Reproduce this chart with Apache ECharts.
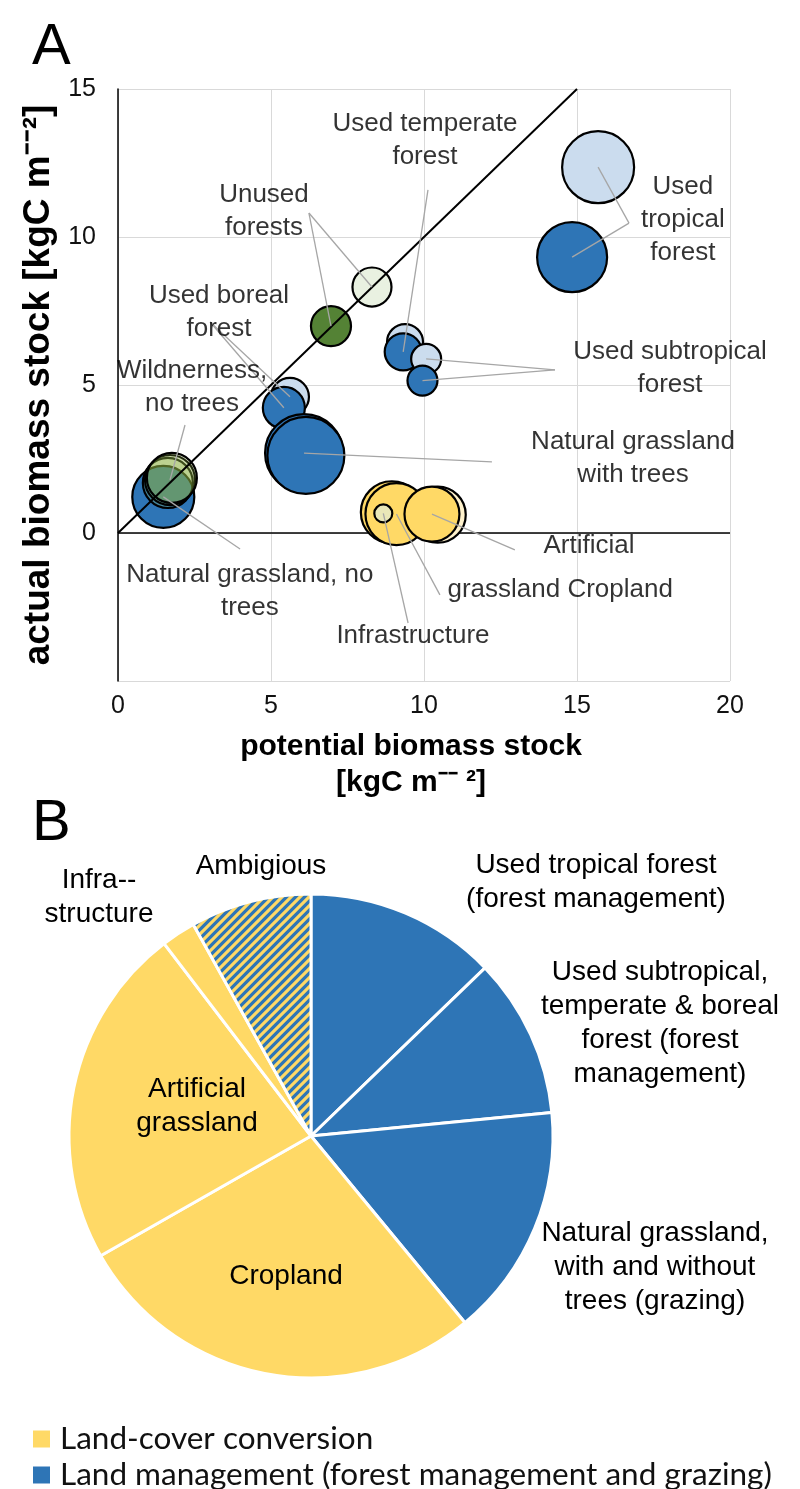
<!DOCTYPE html>
<html><head><meta charset="utf-8">
<script src="https://cdn.jsdelivr.net/npm/echarts@6/dist/echarts.min.js"></script>
<style>html,body{margin:0;padding:0;background:#fff}#c{width:800px;height:1489px}</style>
</head><body><div id="c"></div>
<script>
// ---------- Panel A: bubbles ----------
const bubbleKeys = ['cropB','artB','crop','art','infra','tropL','tropD','unusedL','unusedD','tempL','tempD','subL','subD','borL','borD','ngtA','ngtB','ngn','wildA','wildB','wildC'];
const potentialStock = [8.95,10.45,9.10,10.26,8.67,15.69,14.84,8.30,6.96,9.38,9.32,10.07,9.95,5.62,5.42,6.08,6.14,1.48,1.63,1.70,1.76];
const actualStock    = [0.70,0.62,0.64,0.64,0.66,12.36,9.32,8.31,6.99,6.45,6.12,5.88,5.15,4.60,4.23,2.70,2.62,1.22,1.69,1.79,1.86];
const bubbleArea     = [47.5,38.7,47.5,37.3,4.0,64,60.5,18.8,19.8,16,16.9,11.1,11.1,17.8,21.8,75.1,73.2,47.5,30.9,30.9,30.9];
const bubbleClass    = ['crop','artLight','crop','crop','infra','forestLight','forestDark','unusedLight','unusedDark','forestLight','forestDark','forestLight','forestDark','forestLight','forestDark','forestDark','forestDark','forestDark','wild','wild','wild'];

// annotations
const annotTexts = ['Used temperate\nforest','Used\ntropical\nforest','Unused\nforests','Used boreal\nforest','Wildnerness,\nno trees','Natural grassland\nwith trees','Used subtropical\nforest','Natural grassland, no\ntrees','Artificial','grassland Cropland','Infrastructure'];
const annotX = [10.03,18.46,4.77,3.30,2.42,16.83,18.04,4.31,15.39,14.45,9.64];
const annotY = [13.28,10.57,10.88,7.47,4.93,2.52,5.57,-1.98,-0.44,-1.93,-3.48];

// leader lines: from anchor to bubble
const leaderFromX = [10.13,16.70,16.70,6.24,6.24,3.01,3.01,2.19,12.22,14.28,14.28,3.99,12.97,10.52,9.48];
const leaderFromY = [11.59,10.47,10.47,10.81,10.81,7.13,7.13,3.65,2.40,5.51,5.51,-0.54,-0.57,-2.09,-3.04];
const leaderTo    = ['tempD','tropL','tropD','unusedL','unusedD','borL','borD','wildB','ngtA','subL','subD','ngn','art','crop','infra'];

const oneToOne = [0, 15];
const zeroLine = [0, 20];
const xTicks = [0, 20, 5];
const yTicks = [-5, 15, 5];

// ---------- Panel B: pie ----------
const pieNames  = ['Used tropical forest (forest management)','Used subtropical, temperate & boreal forest (forest management)','Natural grassland, with and without trees (grazing)','Cropland','Artificial grassland','Infrastructure','Ambiguous'];
const pieLabels = ['Used tropical forest\n(forest management)','Used subtropical,\ntemperate & boreal\nforest (forest\nmanagement)','Natural grassland,\nwith and without\ntrees (grazing)','Cropland','Artificial\ngrassland','Infra--\nstructure','Ambigious'];
const pieShares = [12.8,10.7,15.6,27.8,22.9,2.3,8.1];
const pieType   = ['management','management','management','conversion','conversion','conversion','ambiguous'];
const legendNames = ['Land-cover conversion','Land management (forest management and grazing)'];

// ---------- styles ----------
const F = '"Liberation Sans", Arial, sans-serif';
const BLUE = '#2e75b6', YELLOW = '#ffd966';
const classColor = {crop:YELLOW, artLight:'#fff2cc', infra:'#e9e7b8', forestLight:'#cbdcee', forestDark:BLUE, unusedLight:'#e9f1e1', unusedDark:'#548235', wild:'rgba(139,175,63,0.25)'};
const pieLabelPos = [[596,882],[660,1023],[655,1267],[286,1276],[197,1106],[99,897],[261,866]];

function hatch(){
  const s=9, c=document.createElement('canvas'); c.width=s; c.height=s;
  const g=c.getContext('2d'); g.fillStyle=BLUE; g.fillRect(0,0,s,s);
  g.strokeStyle=YELLOW; g.lineWidth=3.1; g.beginPath();
  g.moveTo(-1,s+1); g.lineTo(s+1,-1);
  g.moveTo(-s/2-1,s/2+1); g.lineTo(s/2+1,-s/2-1);
  g.moveTo(s/2-1,s*1.5+1); g.lineTo(s*1.5+1,s/2-1);
  g.stroke(); return c;
}
const typeColor = {management:BLUE, conversion:YELLOW, ambiguous:{image:hatch(), repeat:'repeat'}};

const idx = k => bubbleKeys.indexOf(k);
const legendText = {fontFamily:'Lato, "Open Sans", sans-serif', fontSize:31.5, lineHeight:32, color:'#111', padding:[0,0,0,5]};

const chart = echarts.init(document.getElementById('c'), null, {renderer:'canvas'});
chart.setOption({
  animation:false,
  backgroundColor:'#fff',
  textStyle:{fontFamily:F},
  grid:{left:118, top:89, width:612, height:592},
  xAxis:{type:'value', min:xTicks[0], max:xTicks[1], interval:xTicks[2],
    axisLine:{show:false}, axisTick:{show:false},
    splitLine:{lineStyle:{color:'#d9d9d9', width:1}},
    axisLabel:{fontSize:25, color:'#111', margin:13, fontFamily:F},
    name:'potential biomass stock\n[kgC m\u207B\u207B \u00B2]', nameLocation:'middle', nameGap:48,
    nameTextStyle:{fontSize:30, fontWeight:'bold', color:'#000', lineHeight:36, fontFamily:F, verticalAlign:'top', padding:[0,26,0,0]}},
  yAxis:{type:'value', min:yTicks[0], max:yTicks[1], interval:yTicks[2],
    axisLine:{show:true, onZero:false, lineStyle:{color:'#000', width:1.5}}, axisTick:{show:false},
    splitLine:{lineStyle:{color:'#d9d9d9', width:1}},
    axisLabel:{fontSize:25, color:'#111', margin:22, fontFamily:F, formatter:v=> v===yTicks[0]?'':String(v)},
    name:'actual biomass stock [kgC m\u207B\u207B\u00B2]', nameLocation:'middle', nameRotate:90, nameGap:60,
    nameTextStyle:{fontSize:37, fontWeight:'bold', color:'#000', fontFamily:F}},
  legend:[
    {left:28, top:1418, itemWidth:17, itemHeight:17, icon:'rect', selectedMode:false, data:[legendNames[0]], textStyle:legendText},
    {left:28, top:1454, itemWidth:17, itemHeight:17, icon:'rect', selectedMode:false, data:[legendNames[1]], textStyle:legendText}
  ],
  graphic:[
    {type:'text', left:32, top:19, style:{text:'A', font:'58px "Liberation Sans", Arial', fill:'#000'}},
    {type:'text', left:32, top:795, style:{text:'B', font:'58px "Liberation Sans", Arial', fill:'#000'}}
  ],
  series:[
    {type:'line', silent:true, z:1, showSymbol:false, data:zeroLine.map(x=>[x,0]), lineStyle:{color:'#000', width:1.5}},
    {type:'scatter', z:2, silent:true,
      symbolSize:v=>9*Math.sqrt(v[2]),
      data:bubbleKeys.map((k,i)=>({name:k, value:[potentialStock[i], actualStock[i], bubbleArea[i]],
        itemStyle:{color:classColor[bubbleClass[i]], borderColor:'#000', borderWidth:2.2, opacity:1}}))},
    {type:'line', silent:true, z:4, showSymbol:false, data:oneToOne.map(v=>[v,v]), lineStyle:{color:'#000', width:2}},
    {type:'lines', coordinateSystem:'cartesian2d', silent:true, z:5,
      lineStyle:{color:'#a6a6a6', width:1.3, opacity:1},
      data:leaderTo.map((k,i)=>({coords:[[leaderFromX[i], leaderFromY[i]], [potentialStock[idx(k)], actualStock[idx(k)]]]}))},
    {type:'scatter', silent:true, z:6, symbolSize:1, itemStyle:{color:'rgba(0,0,0,0)'},
      label:{show:true, position:'inside', formatter:p=>p.name, fontSize:26, lineHeight:33, color:'#000', fontFamily:F, align:'center', verticalAlign:'middle'},
      data:annotTexts.map((t,i)=>({name:t, value:[annotX[i], annotY[i]]}))},
    {type:'pie', center:[311,1136], radius:242, startAngle:90, clockwise:true, silent:true,
      avoidLabelOverlap:false,
      itemStyle:{borderColor:'#fff', borderWidth:3},
      label:{show:true, position:'inside', fontSize:28, lineHeight:34, color:'#000', fontFamily:F,
        formatter:p=>pieLabels[p.dataIndex]},
      labelLine:{show:false},
      labelLayout:p=>({x:pieLabelPos[p.dataIndex][0], y:pieLabelPos[p.dataIndex][1], align:'center', verticalAlign:'middle'}),
      data:pieNames.map((n,i)=>({name:n, value:pieShares[i], itemStyle:{color:typeColor[pieType[i]]}}))},
    {type:'scatter', name:legendNames[0], data:[], itemStyle:{color:YELLOW, opacity:1}},
    {type:'scatter', name:legendNames[1], data:[], itemStyle:{color:BLUE, opacity:1}}
  ]
});
</script></body></html>
